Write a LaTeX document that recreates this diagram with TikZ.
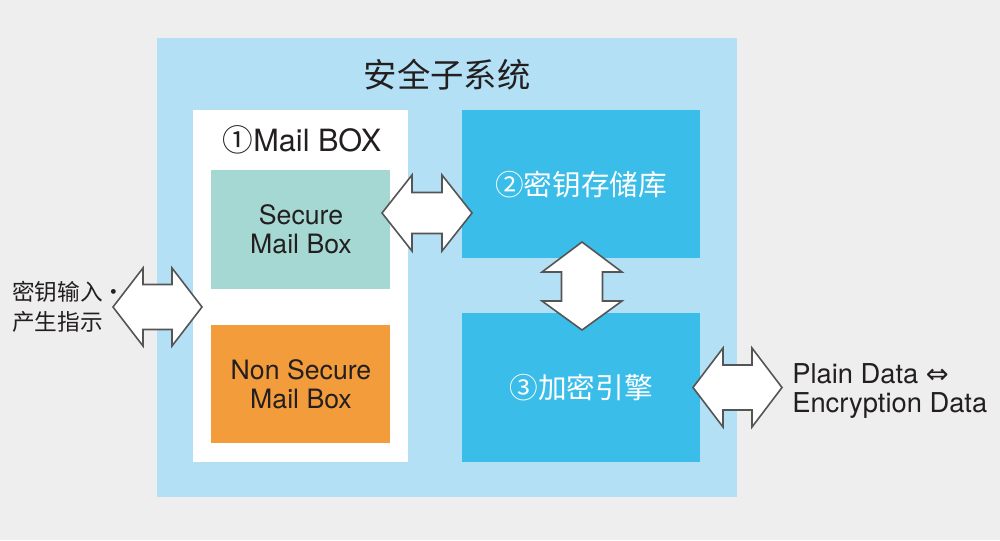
\documentclass[tikz,border=0pt]{standalone}
\usepackage{fontspec}
\setmainfont{TeX Gyre Heros}
\newfontfamily\cjk{Noto Sans CJK SC}
\newfontfamily\sym{DejaVu Sans}
\definecolor{bg}{HTML}{EEEEEE}
\definecolor{outer}{HTML}{B3E0F5}
\definecolor{teal}{HTML}{A6D8D3}
\definecolor{orng}{HTML}{F39C3B}
\definecolor{blu}{HTML}{3ABDE8}
\definecolor{ink}{HTML}{231F20}
\definecolor{edge}{HTML}{555555}
\begin{document}
\begin{tikzpicture}[x=0.75pt,y=-0.75pt,
  box/.style={draw=none},
  lbl/.style={text=ink,inner sep=0pt,align=center},
  wlbl/.style={text=white,inner sep=0pt,align=center},
  blockarrow/.style={draw=edge,fill=white,line width=1.2pt,line join=miter}]
\fill[bg] (0,0) rectangle (1000,540);
\useasboundingbox (0,0) rectangle (1000,540);
% containers
\fill[outer] (157,38) rectangle (737,497);
\fill[white] (193,110) rectangle (408,462);
\fill[teal] (211,170) rectangle (390,289);
\fill[orng] (211,325) rectangle (390,443);
\fill[blu] (462,110) rectangle (700,258);
\fill[blu] (462,313) rectangle (700,462);
% labels
\node[lbl,font=\cjk\fontsize{25pt}{28pt}\selectfont] (title) at (447,75) {安全子系统};
\node[lbl,font=\fontsize{23pt}{26pt}\selectfont] (mailbox) at (302,140) {{\cjk ①}Mail BOX};
\node[lbl,font=\fontsize{20pt}{21.75pt}\selectfont] (secure) at (301,229) {Secure\\Mail Box};
\node[lbl,font=\fontsize{20pt}{21.75pt}\selectfont] (nonsecure) at (301,384) {Non Secure\\Mail Box};
\node[wlbl,font=\cjk\fontsize{21.5pt}{24pt}\selectfont] (keystore) at (581,185) {②密钥存储库};
\node[wlbl,font=\cjk\fontsize{21.5pt}{24pt}\selectfont] (engine) at (581,388) {③加密引擎};
\node[lbl,align=left,anchor=west,font=\cjk\fontsize{17pt}{22.5pt}\selectfont] (keyin) at (12,307) {密钥输入・\\产生指示};
\node[lbl,align=left,anchor=west,font=\fontsize{20.5pt}{21.75pt}\selectfont] (plain) at (792,391) {Plain Data {\sym ⇔}\\Encryption Data};
% block arrows
\draw[blockarrow] (113,307) -- (143,268) -- (143,284.5) -- (172,284.5) -- (172,268) -- (202,307)
  -- (172,346) -- (172,329.5) -- (143,329.5) -- (143,346) -- cycle;
\draw[blockarrow] (382,213) -- (412,175) -- (412,192.5) -- (442,192.5) -- (442,175) -- (472,213)
  -- (442,251) -- (442,233.5) -- (412,233.5) -- (412,251) -- cycle;
\draw[blockarrow] (582,242) -- (622,272) -- (602.5,272) -- (602.5,301) -- (622,301) -- (582,330)
  -- (542,301) -- (561.5,301) -- (561.5,272) -- (542,272) -- cycle;
\draw[blockarrow] (693,387.5) -- (723,348) -- (723,365) -- (752,365) -- (752,348) -- (782,387.5)
  -- (752,427) -- (752,410) -- (723,410) -- (723,427) -- cycle;
\end{tikzpicture}
\end{document}
